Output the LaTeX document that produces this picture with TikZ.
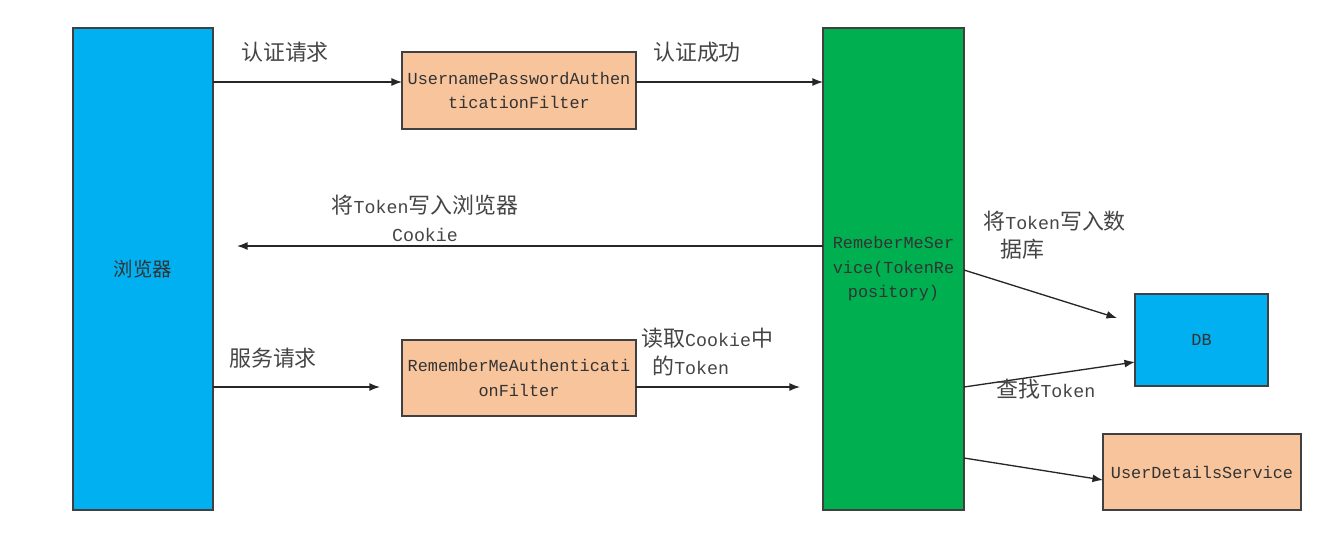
\documentclass[tikz,border=0pt]{standalone}
\usepackage{fontspec}
\setmainfont{Liberation Mono}
\newfontfamily\cjk[Scale=1.2]{Noto Sans CJK SC}
\usetikzlibrary{arrows.meta,calc}
\definecolor{cblue}{HTML}{00B0F0}
\definecolor{cgreen}{HTML}{00B050}
\definecolor{cpeach}{HTML}{F8C49C}
\definecolor{cborder}{HTML}{404040}
\definecolor{ctext}{HTML}{333333}
\definecolor{clabel}{HTML}{454545}
\begin{document}
\begin{tikzpicture}[x=0.02cm,y=-0.02cm,
  box/.style={draw=cborder,line width=0.8pt,inner sep=0pt,outer sep=0pt,align=center,
    text=ctext,font=\fontsize{9.6}{14}\selectfont},
  lbl/.style={text=clabel,inner sep=0pt,font=\fontsize{10.4}{16}\selectfont},
  arr/.style={draw=black!85,line width=0.75pt,-{Latex[length=6pt,width=4.5pt]}}]
\useasboundingbox[fill=white] (0,0) rectangle (1318,549);
% boxes
\node[box,fill=cblue,minimum width=2.8cm,minimum height=9.64cm] (browser) at (143,269)
  {\fontsize{9.2}{12}\selectfont\cjk 浏览器};
\node[box,fill=cpeach,minimum width=4.68cm,minimum height=1.54cm] (upaf) at (519,90.5)
  {UsernamePasswordAuthen\\ticationFilter};
\node[box,fill=cgreen,minimum width=2.82cm,minimum height=9.64cm] (rms) at (893.5,269)
  {RemeberMeSer\\vice(TokenRe\\pository)};
\node[box,fill=cpeach,minimum width=4.68cm,minimum height=1.52cm] (rmaf) at (519,378)
  {RememberMeAuthenticati\\onFilter};
\node[box,fill=cblue,minimum width=2.66cm,minimum height=1.84cm] (db) at (1201.5,340)
  {DB};
\node[box,fill=cpeach,minimum width=3.96cm,minimum height=1.52cm] (uds) at (1202,472)
  {UserDetailsService};
% helper coordinates
\coordinate (y82) at (0,82);
\coordinate (y246) at (0,246);
\coordinate (y270) at (0,270);
\coordinate (y387) at (0,387);
\coordinate (y362) at (0,362);
\coordinate (y458) at (0,458);
\coordinate (y480) at (0,480);
\coordinate (e1) at (237,246);
\coordinate (e2) at (380,387);
\coordinate (e3) at (800,387);
\coordinate (e4) at (1117,318);
% connectors
\draw[arr] (browser.east |- y82) -- (upaf.west |- y82);
\draw[arr] (upaf.east |- y82) -- (rms.west |- y82);
\draw[arr] (rms.west |- y246) -- (e1);
\draw[arr] (browser.east |- y387) -- (e2);
\draw[arr] (rmaf.east |- y387) -- (e3);
\draw[arr] (rms.east |- y270) -- (e4);
\draw[arr] (rms.east |- y387) -- (db.west |- y362);
\draw[arr] (rms.east |- y458) -- (uds.west |- y480);
% labels
\node[lbl] (l1) at (285,52) {\cjk 认证请求};
\node[lbl] (l2) at (697,52) {\cjk 认证成功};
\node[lbl,align=center] (l3) at (425,218) {{\cjk 将}Token{\cjk 写入浏览器}\\Cookie};
\node[lbl] (l4) at (273,358) {\cjk 服务请求};
\node[lbl,align=left,anchor=west] (l5) at (641,352) {{\cjk 读取}Cookie{\cjk 中}\\\hspace*{0.22cm}{\cjk 的}Token};
\node[lbl,align=left,anchor=west] (l6) at (983,235) {{\cjk 将}Token{\cjk 写入数}\\\hspace*{0.34cm}{\cjk 据库}};
\node[lbl] (l7) at (1046,389) {{\cjk 查找}Token};
\end{tikzpicture}
\end{document}
